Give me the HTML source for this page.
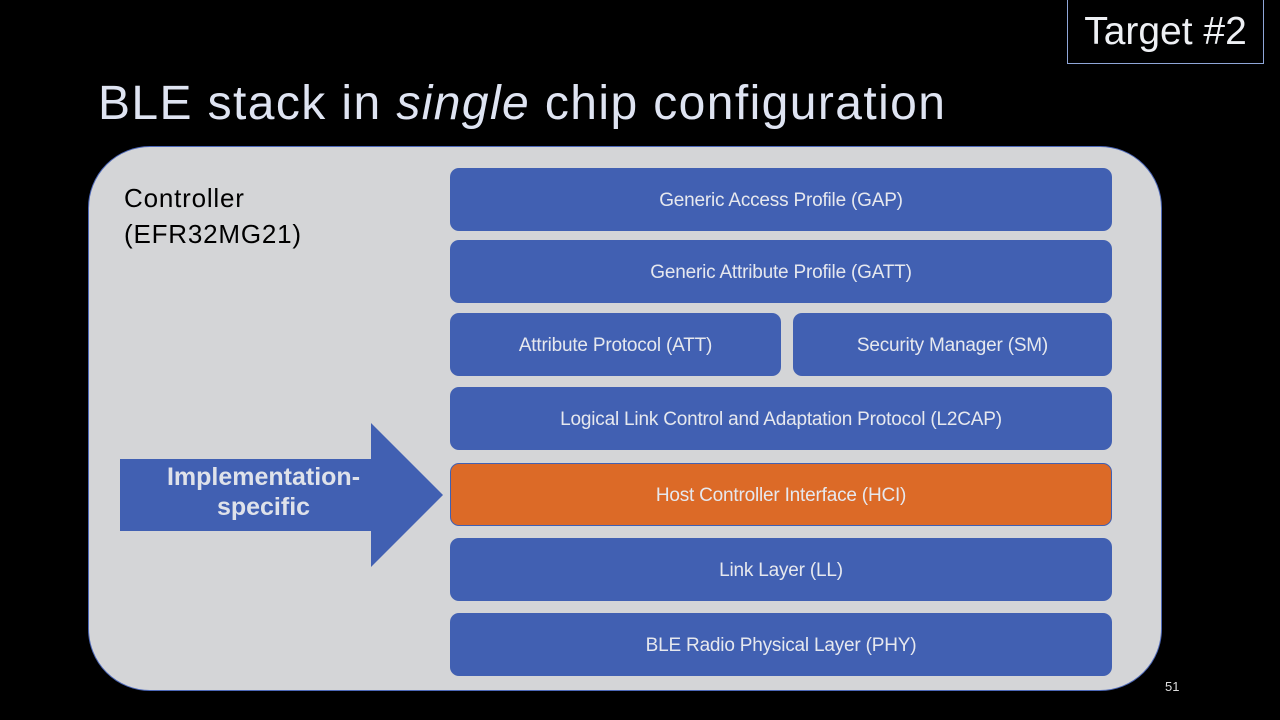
<!DOCTYPE html>
<html><head><style>
body{margin:0;width:1280px;height:720px;background:#000;position:relative;overflow:hidden;font-family:"Liberation Sans",sans-serif}
.a{position:absolute}
.b{position:absolute;left:450px;width:662px;height:63px;background:#4160b2;border-radius:9px;color:#e6e8ee;font-size:19px;display:flex;align-items:center;justify-content:center;letter-spacing:-0.2px;padding-top:3px;box-sizing:border-box}
</style></head><body>
<div class="a" style="left:1067px;top:0;width:195px;height:63px;border:1px solid #8fa6d8;border-top:none;color:#eef0f4;font-size:39px;display:flex;align-items:center;justify-content:center">Target #2</div>
<div class="a" style="left:98px;top:76px;font-size:48px;color:#dfe4f2;letter-spacing:1.4px;white-space:nowrap">BLE stack in <i>single</i> chip configuration</div>
<div class="a" style="left:88px;top:146px;width:1072px;height:543px;background:#d4d5d7;border:1px solid #4d68b8;border-radius:62px"></div>
<div class="a" style="left:124px;top:180px;font-size:26px;line-height:36px;color:#000;letter-spacing:0.8px">Controller<br>(EFR32MG21)</div>
<svg class="a" style="left:0;top:0" width="1280" height="720"><polygon points="120,459 371,459 371,423 443,495 371,567 371,531 120,531" fill="#4160b2"/></svg>
<div class="a" style="left:120px;top:462px;width:287px;text-align:center;color:#dfe2ea;font-size:25px;line-height:30px;font-weight:bold">Implementation-<br>specific</div>
<div class="b" style="top:168px">Generic Access Profile (GAP)</div>
<div class="b" style="top:240px">Generic Attribute Profile (GATT)</div>
<div class="b" style="top:313px;width:331px">Attribute Protocol (ATT)</div>
<div class="b" style="top:313px;left:793px;width:319px">Security Manager (SM)</div>
<div class="b" style="top:387px">Logical Link Control and Adaptation Protocol (L2CAP)</div>
<div class="b" style="top:463px;background:#dc6a27;border:1px solid #4160b2">Host Controller Interface (HCI)</div>
<div class="b" style="top:538px">Link Layer (LL)</div>
<div class="b" style="top:613px">BLE Radio Physical Layer (PHY)</div>
<div class="a" style="left:1165px;top:679px;color:#ddd;font-size:13px">51</div>
</body></html>
